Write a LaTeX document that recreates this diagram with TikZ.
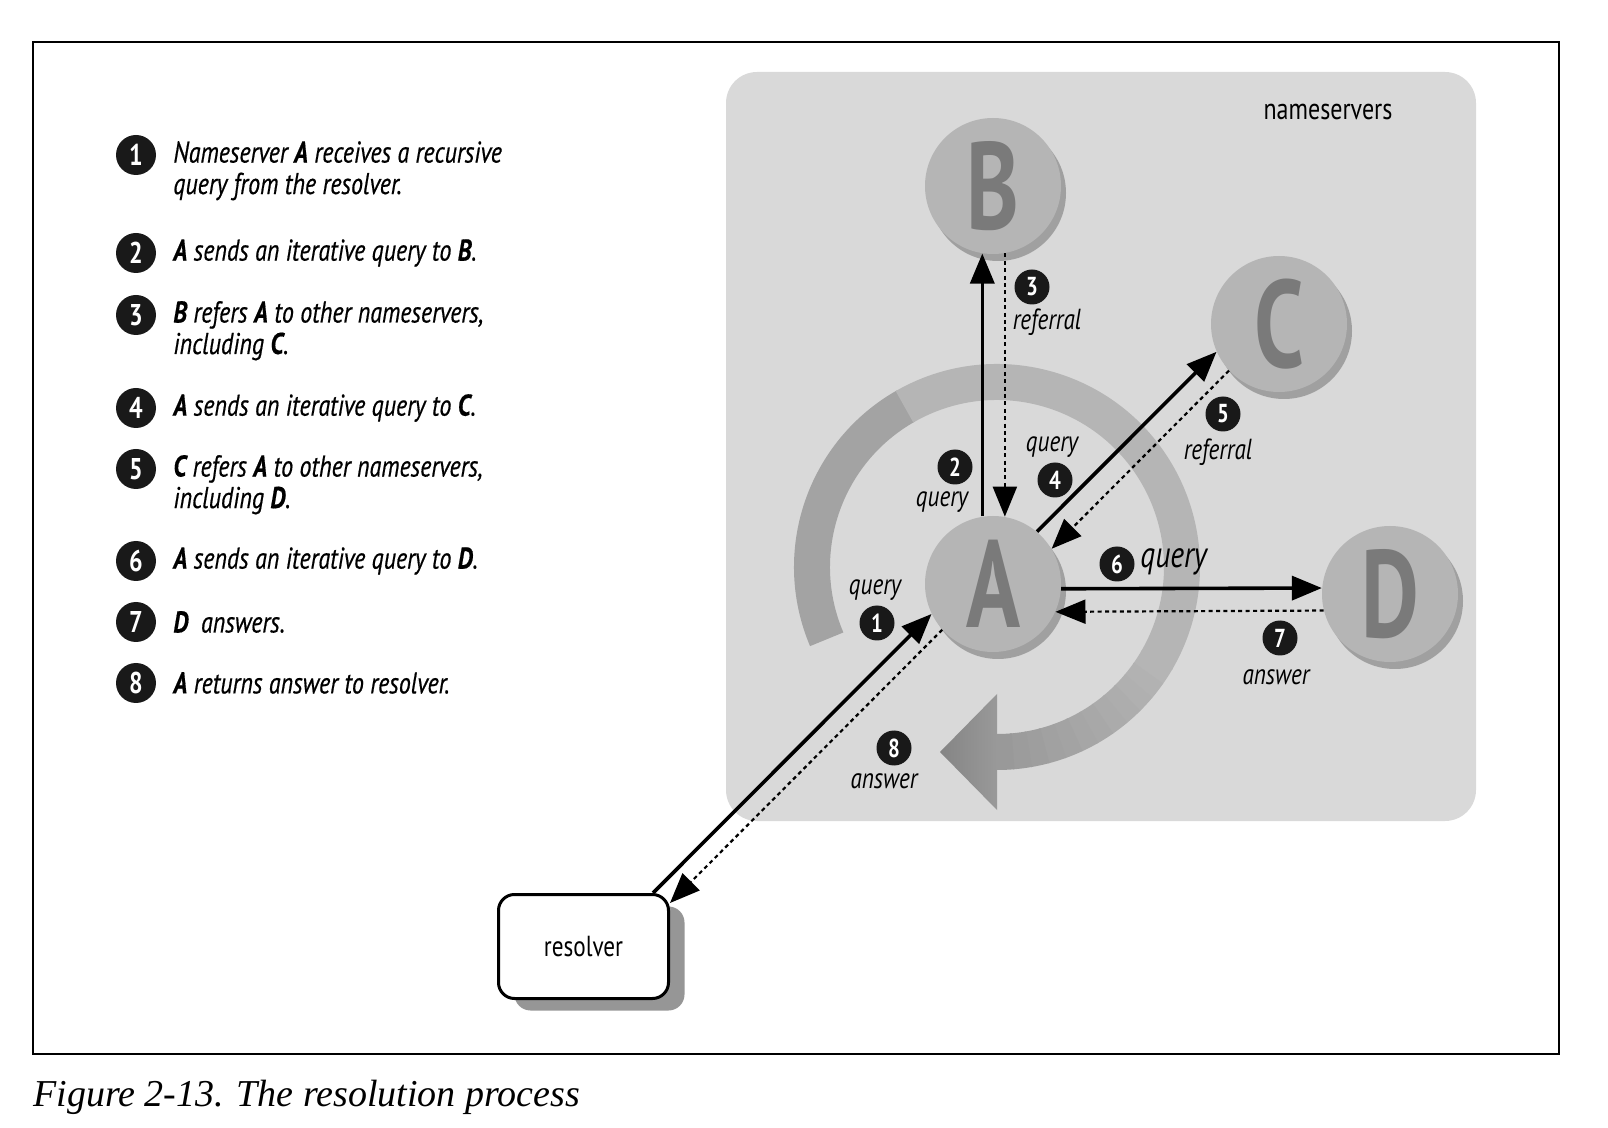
\documentclass[tikz,border=0pt]{standalone}
\usepackage{fontspec}
\setmainfont{PT Sans}[FakeStretch=0.8]
\newfontfamily\letterfont{PT Sans}[FakeStretch=0.72]
\newfontfamily\stepfont{PT Sans}[FakeStretch=0.8,FakeBold=0.5]
\newfontfamily\captionfont{Liberation Serif}
\usetikzlibrary{arrows.meta,shadows}

\begin{document}
\begin{tikzpicture}[x=0.5pt,y=-0.5pt,
    badge/.style={circle,fill=black!90,text=white,inner sep=0pt,minimum size=17.5pt,
      font=\bfseries\fontsize{13}{13}\selectfont},
    bigbadge/.style={badge,minimum size=20pt,font=\bfseries\fontsize{15}{15}\selectfont},
    item/.style={anchor=west,align=left,inner sep=0pt,font=\stepfont\itshape\fontsize{15}{15.75}\selectfont},
    lbl/.style={inner sep=0pt,font=\itshape\fontsize{14.5}{14.5}\selectfont},
    server/.style={circle,fill=black!29,text=black!52,inner sep=0pt,minimum size=68pt,
      font=\letterfont\bfseries\fontsize{62}{62}\selectfont,
      drop shadow={shadow xshift=2.5pt,shadow yshift=-3.5pt,fill=black!70,opacity=.4}},
    query/.style={line width=1.8pt,-{Triangle[length=15pt,width=12pt]}},
    reply/.style={line width=1.1pt,dash pattern=on 2pt off 1.7pt,-{Triangle[length=15pt,width=12pt]}},
    ring/.style={line width=18pt}]
  \useasboundingbox (0,0) rectangle (1608,1128);
  % Frame and nameserver panel
  \draw[line width=0.6pt] (33,42) rectangle (1559,1054);
  \fill[black!15,rounded corners=15.5pt] (726,72) rectangle (1476,821);
  \node[font=\fontsize{15}{15}\selectfont] (ns) at (1328,112) {nameservers};
  % Recursion ring
  \draw[ring,draw=black!36] (997,567) ++(157:185) arc[start angle=157,end angle=240.5,radius=185];
  \draw[ring,draw=black!29] (997,567) ++(240:185) arc[start angle=240,end angle=390.5,radius=185];
  \foreach \k [evaluate=\k as \a using 390+5*\k, evaluate=\k as \tone using 29+\k] in {0,...,11}
    \draw[ring,draw=black!\tone] (997,567) ++(\a:185) arc[start angle=\a,end angle=\a+5.4,radius=185];
  \shade[left color=black!48,right color=black!40] (997,694) -- (940,752) -- (997,810) -- cycle;
  % Nameservers and resolver
  \node[server] (A) at (993,584) {A};
  \node[server] (B) at (993,186) {B};
  \node[server] (C) at (1279,324) {C};
  \node[server] (D) at (1390,594) {D};
  \node[draw,line width=1.5pt,fill=white,rounded corners=8pt,minimum width=85pt,minimum height=52pt,
    font=\fontsize{14.5}{14.5}\selectfont,
    drop shadow={shadow xshift=8pt,shadow yshift=-6pt,fill=black!55,opacity=.75}] (res) at (583.5,946.5) {resolver};
  % Messages
  \draw[query] ([xshift=-8.5pt]res.north east) -- (A.206);
  \draw[reply] (A.222) -- ([yshift=-5pt]res.north east);
  \draw[query] (A.99) -- (B.261);
  \draw[reply] (B.280) -- (A.80);
  \draw[query] (A.50) -- (C.204);
  \draw[reply] (C.223) -- (A.31);
  \draw[query] (A.-4) -- (D.175);
  \draw[reply] (D.194) -- (A.-24);
  % Message labels
  \node[badge] (n1) at (877,623) {1};
  \node[lbl] (t1) at (875,590) {query};
  \node[badge] (n2) at (955,467) {2};
  \node[lbl] (t2) at (942,502) {query};
  \node[badge] (n3) at (1032,287) {3};
  \node[lbl] (t3) at (1047,322) {referral};
  \node[badge] (n4) at (1055,480) {4};
  \node[lbl] (t4) at (1052,447) {query};
  \node[badge] (n5) at (1223,414) {5};
  \node[lbl] (t5) at (1218,452) {referral};
  \node[badge] (n6) at (1117,564) {6};
  \node[lbl,anchor=west,font=\itshape\fontsize{18.5}{18.5}\selectfont] (t6) at (1140,562) {query};
  \node[badge] (n7) at (1280,638) {7};
  \node[lbl] (t7) at (1276,677) {answer};
  \node[badge] (n8) at (894,748) {8};
  \node[lbl] (t8) at (884,781) {answer};
  % Steps
  \foreach \n/\y in {1/155,2/253,3/315,4/408,5/469,6/561,7/622,8/683}
    \node[bigbadge] (s\n) at (136,\y) {\n};
  \node[item] (i1) at (173,170.75) {Nameserver \textbf{A} receives a recursive\\query from the resolver.};
  \node[item] (i2) at (173,253) {\textbf{A} sends an iterative query to \textbf{B}.};
  \node[item] (i3) at (173,330.75) {\textbf{B} refers \textbf{A} to other nameservers,\\including \textbf{C}.};
  \node[item] (i4) at (173,408) {\textbf{A} sends an iterative query to \textbf{C}.};
  \node[item] (i5) at (173,484.75) {\textbf{C} refers \textbf{A} to other nameservers,\\including \textbf{D}.};
  \node[item] (i6) at (173,561) {\textbf{A} sends an iterative query to \textbf{D}.};
  \node[item] (i7) at (173,622) {\textbf{D}~ answers.};
  \node[item] (i8) at (173,683) {\textbf{A} returns answer to resolver.};
  % Caption
  \node[anchor=base west,inner sep=0pt,font=\captionfont\itshape\fontsize{19}{19}\selectfont] (cap)
    at (33,1106) {Figure 2-13. The resolution process};
\end{tikzpicture}
\end{document}
